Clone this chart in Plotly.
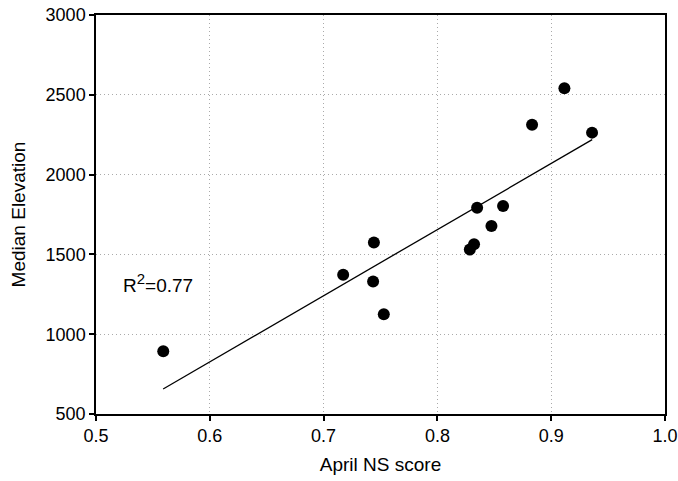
import plotly.graph_objects as go

ns_score = [0.5591, 0.7172, 0.7435, 0.7442, 0.7529, 0.8285, 0.8322, 0.8349,
            0.8475, 0.8577, 0.8832, 0.9116, 0.9359]
elevation = [893, 1373, 1330, 1574, 1125, 1530, 1563, 1793,
             1678, 1803, 2313, 2541, 2263]
fit_x = [0.559, 0.936]
fit_y = [657, 2219]
x_ticks = [0.5, 0.6, 0.7, 0.8, 0.9, 1.0]
x_ticktext = ["0.5", "0.6", "0.7", "0.8", "0.9", "1.0"]
y_ticks = [500, 1000, 1500, 2000, 2500, 3000]

font_family = "Liberation Sans, Arial, Helvetica, sans-serif"

fig = go.Figure()
fig.add_trace(go.Scatter(x=fit_x, y=fit_y, mode="lines",
                         line=dict(color="black", width=1.3), hoverinfo="skip"))
fig.add_trace(go.Scatter(x=ns_score, y=elevation, mode="markers",
                         marker=dict(color="black", size=12)))

fig.add_annotation(x=0.522, y=1319, xref="x", yref="y", xanchor="left", yanchor="middle",
                   text="R<sup><span style='font-size:15px'>2</span></sup>=0.77", showarrow=False,
                   font=dict(family=font_family, size=19, color="black"))

axis_common = dict(showline=True, linecolor="black", linewidth=1.5, mirror=True,
                   ticks="outside", ticklen=5, tickcolor="black", tickwidth=1.5,
                   showgrid=True, gridcolor="#aaaaaa", griddash="1px,3px", gridwidth=1,
                   zeroline=False, automargin=False,
                   tickfont=dict(family=font_family, size=18, color="black"))

fig.update_xaxes(range=[0.5, 1.0], tickvals=x_ticks, ticktext=x_ticktext,
                 title=dict(text="April NS score", standoff=12,
                            font=dict(family=font_family, size=19, color="black")),
                 **axis_common)
fig.update_yaxes(range=[500, 3000], tickvals=y_ticks,
                 title=dict(text="Median Elevation", standoff=15,
                            font=dict(family=font_family, size=19, color="black")),
                 **axis_common)

fig.update_layout(width=678, height=481, showlegend=False,
                  plot_bgcolor="white", paper_bgcolor="white",
                  margin=dict(l=96, r=13, t=15, b=67),
                  font=dict(family=font_family, color="black"))

fig.write_html("out.html")
